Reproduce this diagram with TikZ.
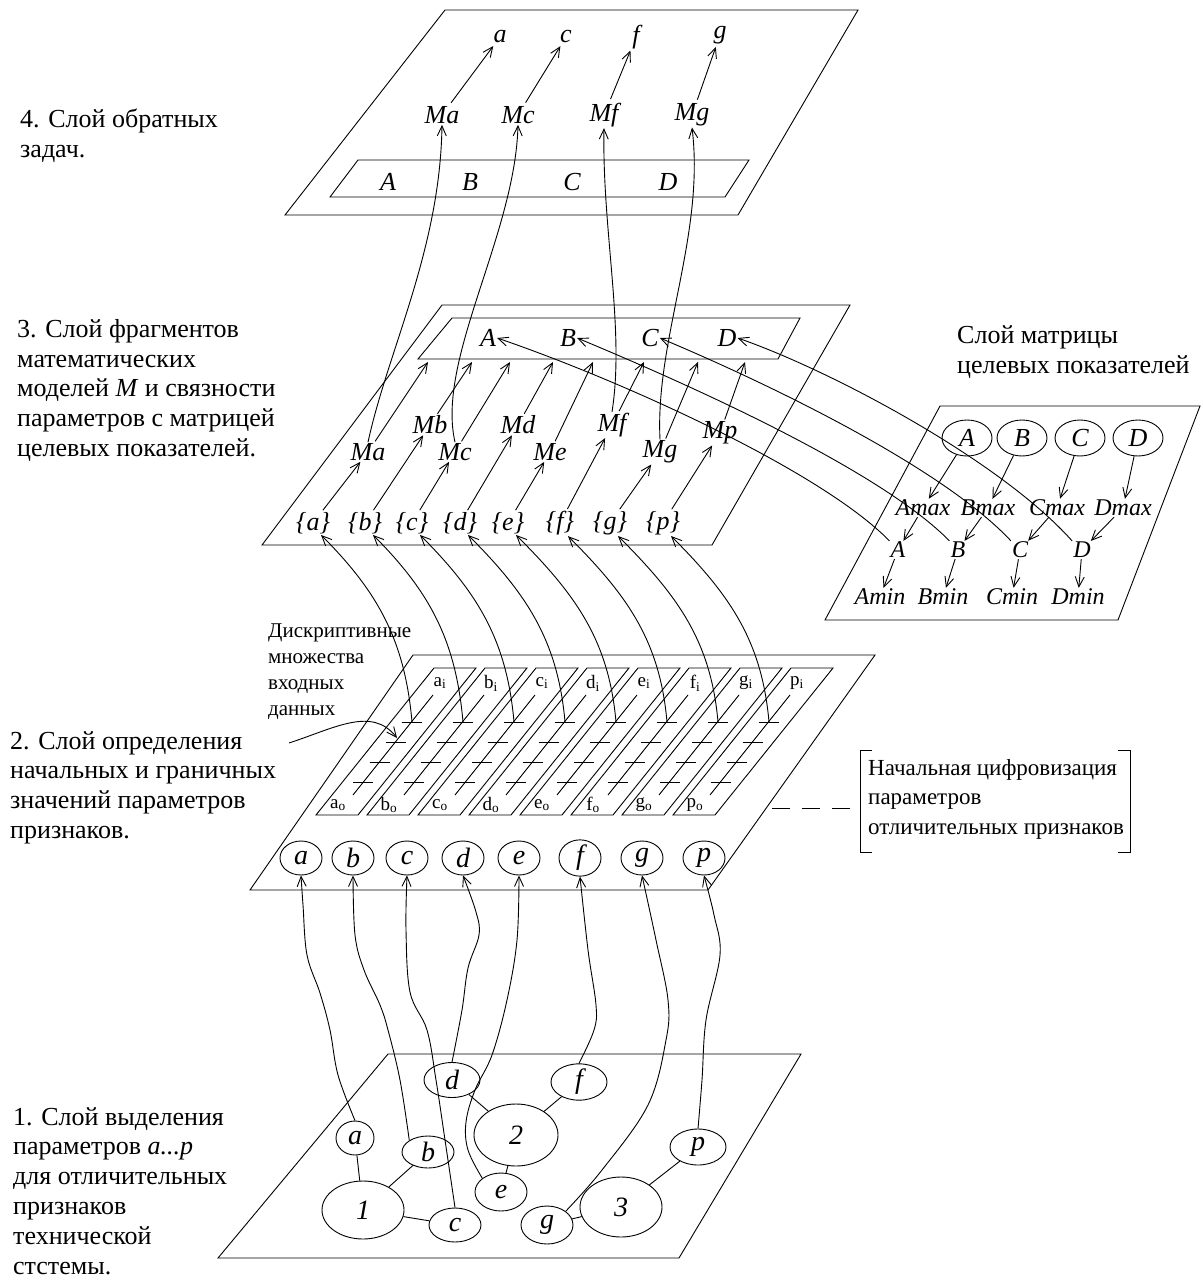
\documentclass[tikz,border=0pt]{standalone}
\usepackage{fontspec}
\setmainfont{Liberation Serif}
\usetikzlibrary{arrows.meta,shapes.geometric,calc}
\begin{document}
\begin{tikzpicture}[x=1pt,y=-1pt,
  ln/.style={line width=0.9pt},
  arr/.style={ln,-{Straight Barb[length=10pt,width=9pt]}},
  lbl/.style={anchor=north west,align=left,inner sep=0pt,font=\fontsize{26}{29.8}\selectfont},
  v/.style={inner sep=1pt,font=\itshape\fontsize{26}{26}\selectfont},
  vs/.style={inner sep=1pt,font=\itshape\fontsize{24}{24}\selectfont},
  mel/.style={ellipse,draw,ln,minimum width=50pt,minimum height=36pt,inner sep=0pt,font=\itshape\fontsize{26}{26}\selectfont},
  el2/.style={ellipse,draw,ln,minimum width=42pt,minimum height=34pt,inner sep=0pt,font=\itshape\fontsize{28}{28}\selectfont},
  el1/.style={ellipse,draw,ln,inner sep=0pt,font=\itshape\fontsize{28}{28}\selectfont},
  sl/.style={inner sep=0pt,font=\fontsize{19}{19}\selectfont},
]
\useasboundingbox (0,0) rectangle (1202,1281);

% ---------------- Layer 4
\draw[ln] (445,10) -- (858,10) -- (738,215) -- (285,215) -- cycle;
\draw[ln] (358,160) -- (749,160) -- (725,197) -- (330,197) -- cycle;
\node[v] (n4A) at (388,182) {A};
\node[v] (n4B) at (470,182) {B};
\node[v] (n4C) at (572,182) {C};
\node[v] (n4D) at (668,182) {D};
\node[v] (n4Ma) at (442,115) {Ma};
\node[v] (n4Mc) at (518,115) {Mc};
\node[v] (n4Mf) at (604,115) {Mf};
\node[v] (n4Mg) at (692,115) {Mg};
\node[v] (n4a) at (500,37) {a};
\node[v] (n4c) at (566,37) {c};
\node[v] (n4f) at (636,37) {f};
\node[v] (n4g) at (720,35) {g};
\foreach \p in {a,c,f,g} \draw[arr,shorten <=3pt,shorten >=2pt] (n4M\p) -- (n4\p);

% ---------------- Layer 3
\draw[ln] (442,305) -- (850,305) -- (712,545) -- (262,545) -- cycle;
\draw[ln] (452,318) -- (800,318) -- (778,359) -- (418,359) -- cycle;
\node[v] (n3A) at (488,338) {A};
\node[v] (n3B) at (568,338) {B};
\node[v] (n3C) at (650,338) {C};
\node[v] (n3D) at (727,338) {D};
\node[v] (n3Ma) at (368,452) {Ma};
\node[v] (n3Mb) at (430,425) {Mb};
\node[v] (n3Mc) at (455,452) {Mc};
\node[v] (n3Md) at (518,425) {Md};
\node[v] (n3Me) at (550,452) {Me};
\node[v] (n3Mf) at (612,425) {Mf};
\node[v] (n3Mg) at (660,452) {Mg};
\node[v] (n3Mp) at (720,433) {Mp};
\node[v] (n3ba) at (313,523) {\{a\}};
\node[v] (n3bb) at (365,523) {\{b\}};
\node[v] (n3bc) at (412,523) {\{c\}};
\node[v] (n3bd) at (460,523) {\{d\}};
\node[v] (n3be) at (508,523) {\{e\}};
\node[v] (n3bf) at (560,523) {\{f\}};
\node[v] (n3bg) at (610,523) {\{g\}};
\node[v] (n3bp) at (663,523) {\{p\}};
\coordinate (t3a) at (428,362);
\coordinate (t3b) at (472,362);
\coordinate (t3c) at (510,362);
\coordinate (t3d) at (553,362);
\coordinate (t3e) at (593,362);
\coordinate (t3f) at (644,362);
\coordinate (t3g) at (698,362);
\coordinate (t3p) at (745,362);
\foreach \p in {a,b,c,d,e,f,g,p} {
  \draw[arr,shorten <=1pt] (n3b\p) -- (n3M\p);
  \draw[arr,shorten <=1pt] (n3M\p) -- (t3\p);
}
% layer 3 -> layer 4
\draw[arr] (n3Ma.north) .. controls (388,350) and (440,250) .. (n4Ma.south);
\draw[arr] (n3Mc.north) .. controls (436,360) and (515,235) .. (n4Mc.south);
\draw[arr] (n3Mf.north) .. controls (625,330) and (602,230) .. (n4Mf.south);
\draw[arr] (n3Mg.north) .. controls (655,340) and (705,235) .. (n4Mg.south);

% ---------------- Matrix layer
\draw[ln] (940,406) -- (1200,406) -- (1118,620) -- (825,620) -- cycle;
\node[anchor=north west,align=left,inner sep=0pt,font=\fontsize{26}{30}\selectfont] (mlab) at (957,325) {Слой матрицы\\целевых показателей};
\node[mel] (mA) at (967,438) {A};
\node[mel] (mB) at (1022,438) {B};
\node[mel] (mC) at (1080,438) {C};
\node[mel] (mD) at (1138,438) {D};
\node[vs] (mAmax) at (923,508) {Amax};
\node[vs] (mBmax) at (988,508) {Bmax};
\node[vs] (mCmax) at (1057,508) {Cmax};
\node[vs] (mDmax) at (1123,508) {Dmax};
\node[vs] (mAm) at (898,550) {A};
\node[vs] (mBm) at (958,550) {B};
\node[vs] (mCm) at (1020,550) {C};
\node[vs] (mDm) at (1082,550) {D};
\node[vs] (mAmin) at (880,597) {Amin};
\node[vs] (mBmin) at (943,597) {Bmin};
\node[vs] (mCmin) at (1012,597) {Cmin};
\node[vs] (mDmin) at (1078,597) {Dmin};
\foreach \p in {A,B,C,D} {
  \draw[arr] (m\p) -- (m\p max);
  \draw[arr] (m\p max) -- (m\p m);
  \draw[arr] (m\p m) -- (m\p min);
}
\draw[arr] (mAm.north west) .. controls (820,470) and (620,380) .. (n3A.east);
\draw[arr] (mBm.north west) .. controls (880,470) and (690,385) .. (n3B.east);
\draw[arr] (mCm.north west) .. controls (940,465) and (760,380) .. (n3C.east);
\draw[arr] (mDm.north west) .. controls (1000,460) and (830,370) .. (n3D.east);

% ---------------- Layer 2
\draw[ln] (413,655) -- (875,655) -- (708,890) -- (250,890) -- cycle;
\foreach \bx/\nm in {316/a,367/b,418/c,469/d,520/e,571/f,622/g,673/p} {
  \draw[ln] (\bx,815) -- ({\bx+42},815) -- ({\bx+160},668) -- ({\bx+118},668) -- cycle;
  \draw[ln] ({\bx+37},795) -- ({\bx+117},695);
  \foreach \ty in {722,742,762,782} {
    \pgfmathsetmacro\cx{\bx+21+118*(815-\ty)/147}
    \draw[ln] ({\cx-10},\ty) -- ({\cx+10},\ty);
  }
  \node[sl] (s2\nm-o) at ({\bx+22},805) {\nm\textsubscript{o}};
  \node[sl] (s2\nm-i) at ({\bx+124},683) {\nm\textsubscript{i}};
  \coordinate (c2\nm) at ({\bx+96},722);
}
\foreach \p in {a,b,c,d,e,f,g,p}
  \draw[arr] (c2\p) to[out=95,in=-45] ($(n3b\p.south)+(8,0)$);
\node[anchor=north west,align=left,inner sep=0pt,font=\fontsize{21}{26}\selectfont] (dlab) at (268,624) {Дискриптивные\\множества\\входных\\данных};
\coordinate (dp) at (289,743);
\coordinate (sa) at (397,738);
\draw[arr] (dp) .. controls (335,728) and (372,706) .. (sa);

\node[el2] (e2a) at (301,858) {a};
\node[el2] (e2b) at (353,858) {b};
\node[el2] (e2c) at (407,858) {c};
\node[el2] (e2d) at (463,858) {d};
\node[el2] (e2e) at (519,858) {e};
\node[el2] (e2f) at (580,858) {f};
\node[el2] (e2g) at (642,858) {g};
\node[el2] (e2p) at (704,858) {p};

% bracket note
\node[anchor=north west,align=left,inner sep=0pt,font=\fontsize{23}{29.5}\selectfont] (brk) at (868,759) {Начальная цифровизация\\параметров\\отличительных признаков};
\draw[ln] (872,750) -- (860,750) -- (860,852) -- (872,852);
\draw[ln] (1118,750) -- (1130,750) -- (1130,852) -- (1118,852);
\coordinate (dl) at (772,808);
\coordinate (brL) at (860,808);
\draw[ln,dash pattern=on 18pt off 12pt] (dl) -- (brL);

% ---------------- Layer 1
\draw[ln] (388,1054) -- (801,1054) -- (679,1258) -- (218,1258) -- cycle;
\node[el1,minimum width=38pt,minimum height=34pt] (e1a) at (355,1138) {a};
\node[el1,minimum width=52pt,minimum height=32pt] (e1b) at (428,1152) {b};
\node[el1,minimum width=82pt,minimum height=58pt] (e1one) at (363,1210) {1};
\node[el1,minimum width=52pt,minimum height=34pt] (e1c) at (455,1225) {c};
\node[el1,minimum width=56pt,minimum height=35pt] (e1d) at (452,1080) {d};
\node[el1,minimum width=84pt,minimum height=62pt] (e1two) at (516,1135) {2};
\node[el1,minimum width=56pt,minimum height=36pt] (e1f) at (579,1082) {f};
\node[el1,minimum width=52pt,minimum height=38pt] (e1e) at (501,1192) {e};
\node[el1,minimum width=52pt,minimum height=38pt] (e1g) at (547,1225) {g};
\node[el1,minimum width=82pt,minimum height=60pt] (e1three) at (621,1207) {3};
\node[el1,minimum width=56pt,minimum height=36pt] (e1p) at (698,1147) {p};
\draw[ln] (e1a) -- (e1one);
\draw[ln] (e1b) -- (e1one);
\draw[ln] (e1one) -- (e1c);
\draw[ln] (e1d) -- (e1two);
\draw[ln] (e1two) -- (e1f);
\draw[ln] (e1two) -- (e1e);
\draw[ln] (e1g) -- (e1three);
\draw[ln] (e1three) -- (e1p);

% layer 1 -> layer 2
\draw[arr] plot[smooth,tension=0.6] coordinates {(e1a.north) (338,1075) (330,1030) (320,993) (307,955) (303,905) (e2a.south)};
\draw[arr] plot[smooth,tension=0.6] coordinates {(e1b.north west) (400,1080) (388,1030) (380,1005) (364,970) (355,935) (e2b.south)};
\draw[arr] plot[smooth,tension=0.6] coordinates {(e1c.north) (445,1140) (436,1080) (427,1030) (410,992) (406,930) (e2c.south)};
\draw[arr] plot[smooth,tension=0.6] coordinates {(e1d.north) (462,1010) (468,968) (479,935) (476,912) (e2d.south)};
\draw[arr] plot[smooth,tension=0.6] coordinates {(e1e.north west) (468,1150) (466,1122) (475,1090) (492,1055) (507,1000) (517,940) (e2e.south)};
\draw[arr] plot[smooth,tension=0.6] coordinates {(e1f.north) (594,1030) (596,1005) (588,950) (e2f.south)};
\draw[arr] plot[smooth,tension=0.6] coordinates {(e1g.north east) (602,1170) (648,1105) (666,1040) (668,1000) (656,940) (e2g.south)};
\draw[arr] plot[smooth,tension=0.6] coordinates {(e1p.north) (702,1080) (706,1020) (720,955) (714,915) (e2p.south)};

% ---------------- Left labels
\node[lbl] (lab4) at (20,109) {4. Слой обратных\\задач.};
\node[lbl] (lab3) at (17,319) {3. Слой фрагментов\\математических\\моделей \textit{M} и связности\\параметров с матрицей\\целевых показателей.};
\node[lbl] (lab2) at (10,731) {2. Слой определения\\начальных и граничных\\значений параметров\\признаков.};
\node[lbl] (lab1) at (13,1107) {1. Слой выделения\\параметров \textit{a...p}\\для отличительных\\признаков\\технической\\стстемы.};
\end{tikzpicture}
\end{document}
